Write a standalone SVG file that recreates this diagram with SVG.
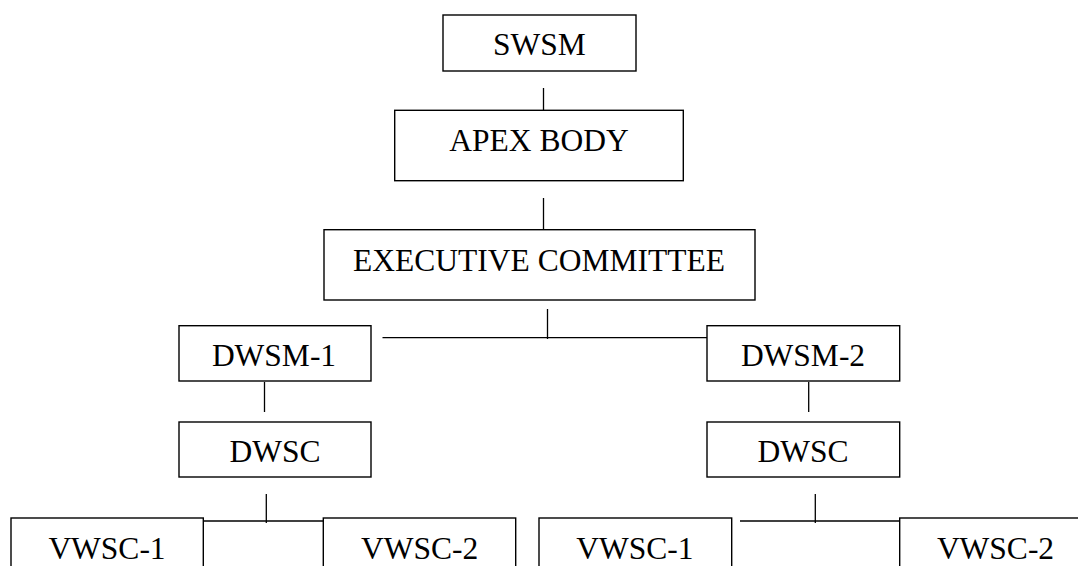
<svg xmlns="http://www.w3.org/2000/svg" width="1078" height="566" viewBox="0 0 1078 566">
<style>
rect.box{fill:#fff;stroke:#000;stroke-width:1.4}
text{font-family:"Liberation Serif","Times New Roman",serif;font-size:31.5px;fill:#000;text-anchor:middle}
#connectors line{stroke:#000;stroke-width:1.3}
</style>
<rect width="1078" height="566" fill="#fff"/>
<g id="connectors">
<line x1="543.5" y1="88" x2="543.5" y2="110"/>
<line x1="543.5" y1="198" x2="543.5" y2="230"/>
<line x1="547.5" y1="309" x2="547.5" y2="339"/>
<line x1="382.5" y1="337.7" x2="707" y2="337.7"/>
<line x1="264.5" y1="382" x2="264.5" y2="412"/>
<line x1="808.7" y1="382" x2="808.7" y2="412"/>
<line x1="266.3" y1="494" x2="266.3" y2="523"/>
<line x1="204" y1="521" x2="323.3" y2="521"/>
<line x1="815.3" y1="494" x2="815.3" y2="523"/>
<line x1="740" y1="521" x2="899.7" y2="521"/>
</g>
<g id="swsm"><rect class="box" x="443" y="15" width="193" height="56"/><text x="539.3" y="55">SWSM</text></g>
<g id="apex"><rect class="box" x="394.7" y="110.3" width="288.6" height="70.4"/><text x="539" y="151">APEX BODY</text></g>
<g id="exec"><rect class="box" x="324" y="229.7" width="431" height="70.3"/><text x="539" y="270.7">EXECUTIVE COMMITTEE</text></g>
<g id="dwsm1"><rect class="box" x="179" y="325.7" width="192" height="55.3"/><text x="274" y="365.7">DWSM-1</text></g>
<g id="dwsm2"><rect class="box" x="707" y="325.7" width="192.7" height="55.3"/><text x="803" y="365.7">DWSM-2</text></g>
<g id="dwsc1"><rect class="box" x="179" y="422" width="192" height="55"/><text x="275" y="462.3">DWSC</text></g>
<g id="dwsc2"><rect class="box" x="707" y="422" width="192.7" height="55"/><text x="803" y="462.3">DWSC</text></g>
<g id="vwsc1a"><rect class="box" x="11" y="518" width="192.3" height="60"/><text x="107" y="558.5">VWSC-1</text></g>
<g id="vwsc2a"><rect class="box" x="323.3" y="518" width="192.4" height="60"/><text x="419.6" y="558.5">VWSC-2</text></g>
<g id="vwsc1b"><rect class="box" x="539" y="518" width="192.7" height="60"/><text x="634.8" y="558.5">VWSC-1</text></g>
<g id="vwsc2b"><rect class="box" x="899.7" y="518" width="192.7" height="60"/><text x="995.5" y="558.5">VWSC-2</text></g>
</svg>
